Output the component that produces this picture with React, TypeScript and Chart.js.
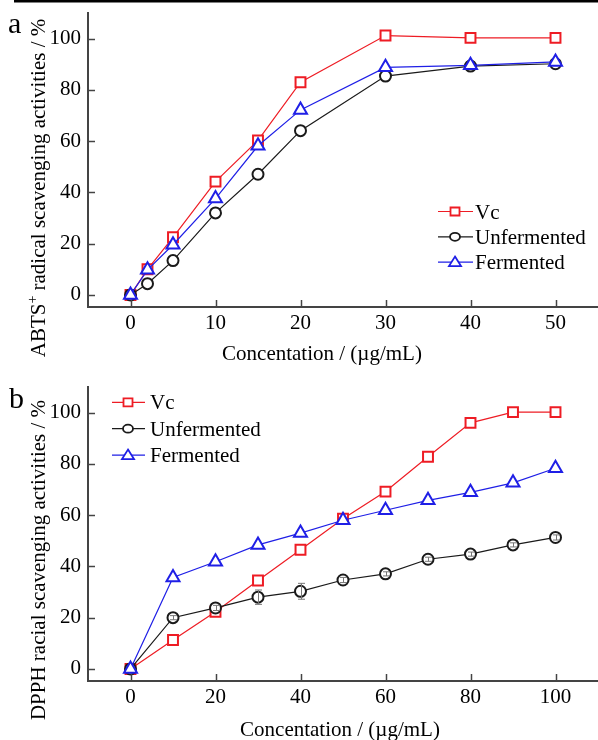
import React, { useEffect, useRef } from 'react';
import { Chart, registerables } from 'chart.js';

Chart.register(...registerables);

const FONT = "'Liberation Serif', 'Times New Roman', serif";

// ---------- Panel a : ABTS+ ----------
const abtsConc = [0, 2, 5, 10, 15, 20, 30, 40, 50];
const abtsVc = [0, 10, 22.5, 44.2, 60.3, 83, 101.2, 100.3, 100.3];
const abtsUnfermented = [0, 4.4, 13.4, 32, 47.1, 64.1, 85.4, 89.3, 90.2];
const abtsFermented = [0, 9.8, 19.6, 37.6, 58.2, 72.2, 88.8, 89.6, 90.9];
const abtsXTicks = [0, 10, 20, 30, 40, 50];

// ---------- Panel b : DPPH ----------
const dpphConc = [0, 10, 20, 30, 40, 50, 60, 70, 80, 90, 100];
const dpphVc = [0, 11.3, 22.3, 34.5, 46.5, 58.6, 69.2, 82.8, 96, 100.2, 100.2];
const dpphUnfermented = [0, 20, 23.8, 28, 30.3, 34.7, 37.1, 42.8, 44.8, 48.4, 51.3];
const dpphUnfermentedErr = [0, 0.8, 1, 2.8, 3.1, 1, 0.8, 0.8, 0.8, 0.8, 1];
const dpphFermented = [0, 35.7, 41.8, 48.4, 53, 58, 61.9, 65.8, 68.9, 72.6, 78.3];
const dpphXTicks = [0, 20, 40, 60, 80, 100];

const yTicks = [0, 20, 40, 60, 80, 100];
const seriesNames = ['Vc', 'Unfermented', 'Fermented'];
const xTitle = 'Concentation / (\u00b5g/mL)';

const RED = '#ee1c24';
const BLACK = '#1a1a1a';
const BLUE = '#1f1fe6';
const AXIS = '#444444';
const W = 598;
const H = 370;

type TitlePart = { text: string; sup?: boolean };
type Panel = {
  letter: string;
  letterPos: [number, number];
  xValues: number[];
  vc: number[];
  unf: number[];
  ferm: number[];
  unfErr: number[] | null;
  xTicks: number[];
  xMin: number;
  xMax: number;
  yTitle: TitlePart[];
  yTitleCenter: number;
  xTitleCenter: number;
  xTitleBaseline: number;
  legend: { y0: number; dy: number; x1: number; x2: number; mx: number; tx: number };
  top: number;
  bottom: number;
  topBar: boolean;
};

const panelA: Panel = {
  letter: 'a',
  letterPos: [8, 33],
  xValues: abtsConc,
  vc: abtsVc,
  unf: abtsUnfermented,
  ferm: abtsFermented,
  unfErr: null,
  xTicks: abtsXTicks,
  xMin: -5,
  xMax: 55,
  yTitle: [{ text: 'ABTS' }, { text: '+', sup: true }, { text: ' radical scavenging activities / %' }],
  yTitleCenter: 188,
  xTitleCenter: 322,
  xTitleBaseline: 360,
  legend: { y0: 211.5, dy: 25.3, x1: 438, x2: 473, mx: 455, tx: 475 },
  top: 13,
  bottom: 307,
  topBar: true,
};

const panelB: Panel = {
  letter: 'b',
  letterPos: [9, 38],
  xValues: dpphConc,
  vc: dpphVc,
  unf: dpphUnfermented,
  ferm: dpphFermented,
  unfErr: dpphUnfermentedErr,
  xTicks: dpphXTicks,
  xMin: -10,
  xMax: 110,
  yTitle: [{ text: 'DPPH racial scavenging activities / %' }],
  yTitleCenter: 190,
  xTitleCenter: 340,
  xTitleBaseline: 366,
  legend: { y0: 32.3, dy: 26.4, x1: 112, x2: 145, mx: 128, tx: 150 },
  top: 17,
  bottom: 311,
  topBar: false,
};

function drawLegendMarker(ctx: CanvasRenderingContext2D, kind: number, x: number, y: number, color: string) {
  ctx.save();
  ctx.strokeStyle = color;
  ctx.fillStyle = '#ffffff';
  ctx.lineWidth = 1.8;
  ctx.beginPath();
  if (kind === 0) {
    ctx.rect(x - 4.5, y - 4, 9, 8);
  } else if (kind === 1) {
    ctx.ellipse(x, y, 5, 4, 0, 0, Math.PI * 2);
  } else {
    ctx.moveTo(x, y - 5.5);
    ctx.lineTo(x + 6, y + 4);
    ctx.lineTo(x - 6, y + 4);
    ctx.closePath();
  }
  ctx.fill();
  ctx.stroke();
  ctx.restore();
}

function makeDecor(p: Panel) {
  return {
    id: 'decor' + p.letter,
    afterDatasetsDraw(chart: any) {
      const ctx: CanvasRenderingContext2D = chart.ctx;
      const ys = chart.scales.y;
      if (p.unfErr) {
        const meta = chart.getDatasetMeta(1);
        ctx.save();
        ctx.strokeStyle = '#777777';
        ctx.lineWidth = 1;
        meta.data.forEach((pt: any, i: number) => {
          const e = p.unfErr ? p.unfErr[i] : 0;
          if (!e) return;
          const v = p.unf[i];
          const yTop = ys.getPixelForValue(v + e);
          const yBot = ys.getPixelForValue(v - e);
          const x = Math.round(pt.x) + 0.5;
          ctx.beginPath();
          ctx.moveTo(x, yTop);
          ctx.lineTo(x, yBot);
          ctx.moveTo(x - 3.5, yTop);
          ctx.lineTo(x + 3.5, yTop);
          ctx.moveTo(x - 3.5, yBot);
          ctx.lineTo(x + 3.5, yBot);
          ctx.stroke();
        });
        ctx.restore();
      }
    },
    afterDraw(chart: any) {
      const ctx: CanvasRenderingContext2D = chart.ctx;
      const xs = chart.scales.x;
      const ys = chart.scales.y;
      const area = chart.chartArea;
      ctx.save();
      // inward tick marks
      ctx.strokeStyle = AXIS;
      ctx.lineWidth = 1.5;
      ys.ticks.forEach((t: any) => {
        const y = Math.round(ys.getPixelForValue(t.value)) + 0.5;
        ctx.beginPath();
        ctx.moveTo(area.left, y);
        ctx.lineTo(area.left + 7, y);
        ctx.stroke();
      });
      xs.ticks.forEach((t: any) => {
        const x = Math.round(xs.getPixelForValue(t.value)) + 0.5;
        ctx.beginPath();
        ctx.moveTo(x, area.bottom);
        ctx.lineTo(x, area.bottom - 7);
        ctx.stroke();
      });

      // top rule
      if (p.topBar) {
        ctx.fillStyle = '#000000';
        ctx.fillRect(14, 0, W - 14, 2.5);
      }

      // panel letter
      ctx.fillStyle = '#000000';
      ctx.font = `30px ${FONT}`;
      ctx.textAlign = 'left';
      ctx.textBaseline = 'alphabetic';
      ctx.fillText(p.letter, p.letterPos[0], p.letterPos[1]);

      // x title
      ctx.font = `21px ${FONT}`;
      ctx.textAlign = 'center';
      ctx.fillText(xTitle, p.xTitleCenter, p.xTitleBaseline);

      // y title (rotated, with superscript)
      ctx.save();
      ctx.translate(45, p.yTitleCenter);
      ctx.rotate(-Math.PI / 2);
      ctx.textAlign = 'left';
      const widths = p.yTitle.map((part) => {
        ctx.font = part.sup ? `14px ${FONT}` : `21px ${FONT}`;
        return ctx.measureText(part.text).width;
      });
      const total = widths.reduce((a, b) => a + b, 0);
      let cx = -total / 2;
      p.yTitle.forEach((part, i) => {
        ctx.font = part.sup ? `14px ${FONT}` : `21px ${FONT}`;
        ctx.fillText(part.text, cx, part.sup ? -8 : 0);
        cx += widths[i];
      });
      ctx.restore();

      // legend
      const colors = [RED, BLACK, BLUE];
      const L = p.legend;
      seriesNames.forEach((name, i) => {
        const y = L.y0 + i * L.dy;
        ctx.strokeStyle = colors[i];
        ctx.lineWidth = 1.2;
        ctx.beginPath();
        ctx.moveTo(L.x1, y);
        ctx.lineTo(L.x2, y);
        ctx.stroke();
        drawLegendMarker(ctx, i, L.mx, y, colors[i]);
        ctx.fillStyle = '#000000';
        ctx.font = `21px ${FONT}`;
        ctx.textAlign = 'left';
        ctx.textBaseline = 'alphabetic';
        ctx.fillText(name, L.tx, y + 7);
      });
      ctx.restore();
    },
  };
}

function PanelChart({ panel }: { panel: Panel }) {
  const ref = useRef<HTMLCanvasElement | null>(null);
  useEffect(() => {
    const p = panel;
    const mk = (vals: number[]) => p.xValues.map((x, i) => ({ x, y: vals[i] }));
    const common = {
      backgroundColor: '#ffffff',
      pointBackgroundColor: '#ffffff',
      pointBorderWidth: 2,
      borderWidth: 1.2,
      tension: 0,
      fill: false,
    };
    const chart = new Chart(ref.current as HTMLCanvasElement, {
      type: 'line',
      data: {
        datasets: [
          { ...common, label: seriesNames[0], data: mk(p.vc), borderColor: RED, pointBorderColor: RED, pointStyle: 'rect', pointRadius: 7, order: 2 },
          { ...common, label: seriesNames[1], data: mk(p.unf), borderColor: BLACK, pointBorderColor: BLACK, pointStyle: 'circle', pointRadius: 5.5, order: 1 },
          { ...common, label: seriesNames[2], data: mk(p.ferm), borderColor: BLUE, pointBorderColor: BLUE, pointStyle: 'triangle', pointRadius: 7.5, order: 0 },
        ] as any,
      },
      options: {
        responsive: false,
        animation: false,
        devicePixelRatio: 1,
        layout: { autoPadding: false, padding: { top: p.top, left: 0, right: 0, bottom: 0 } },
        plugins: { legend: { display: false }, tooltip: { enabled: false }, title: { display: false } },
        scales: {
          x: {
            type: 'linear',
            min: p.xMin,
            max: p.xMax,
            afterBuildTicks: (s: any) => {
              s.ticks = p.xTicks.map((v) => ({ value: v }));
            },
            afterFit: (s: any) => {
              s.height = H - p.bottom;
              s.paddingLeft = 0;
              s.paddingRight = 0;
            },
            ticks: {
              font: { family: FONT, size: 21 },
              color: '#000000',
              padding: 4,
              maxRotation: 0,
              autoSkip: false,
            },
            grid: { display: true, drawOnChartArea: false, drawTicks: false },
            border: { display: true, color: AXIS, width: 2 },
          },
          y: {
            type: 'linear',
            min: -4.7,
            max: 110,
            afterBuildTicks: (s: any) => {
              s.ticks = yTicks.map((v) => ({ value: v }));
            },
            afterFit: (s: any) => {
              s.width = 88;
              s.paddingTop = 0;
              s.paddingBottom = 0;
            },
            ticks: {
              font: { family: FONT, size: 21 },
              color: '#000000',
              padding: 7,
              autoSkip: false,
            },
            grid: { display: true, drawOnChartArea: false, drawTicks: false },
            border: { display: true, color: AXIS, width: 2 },
          },
        },
      } as any,
      plugins: [makeDecor(p)],
    });
    return () => chart.destroy();
  }, [panel]);
  return <canvas ref={ref} width={W} height={H} style={{ display: 'block', width: W, height: H }} />;
}

export default function App() {
  return (
    <div style={{ position: 'absolute', left: 0, top: 0, width: W, height: 2 * H, background: '#ffffff' }}>
      <PanelChart panel={panelA} />
      <PanelChart panel={panelB} />
    </div>
  );
}
